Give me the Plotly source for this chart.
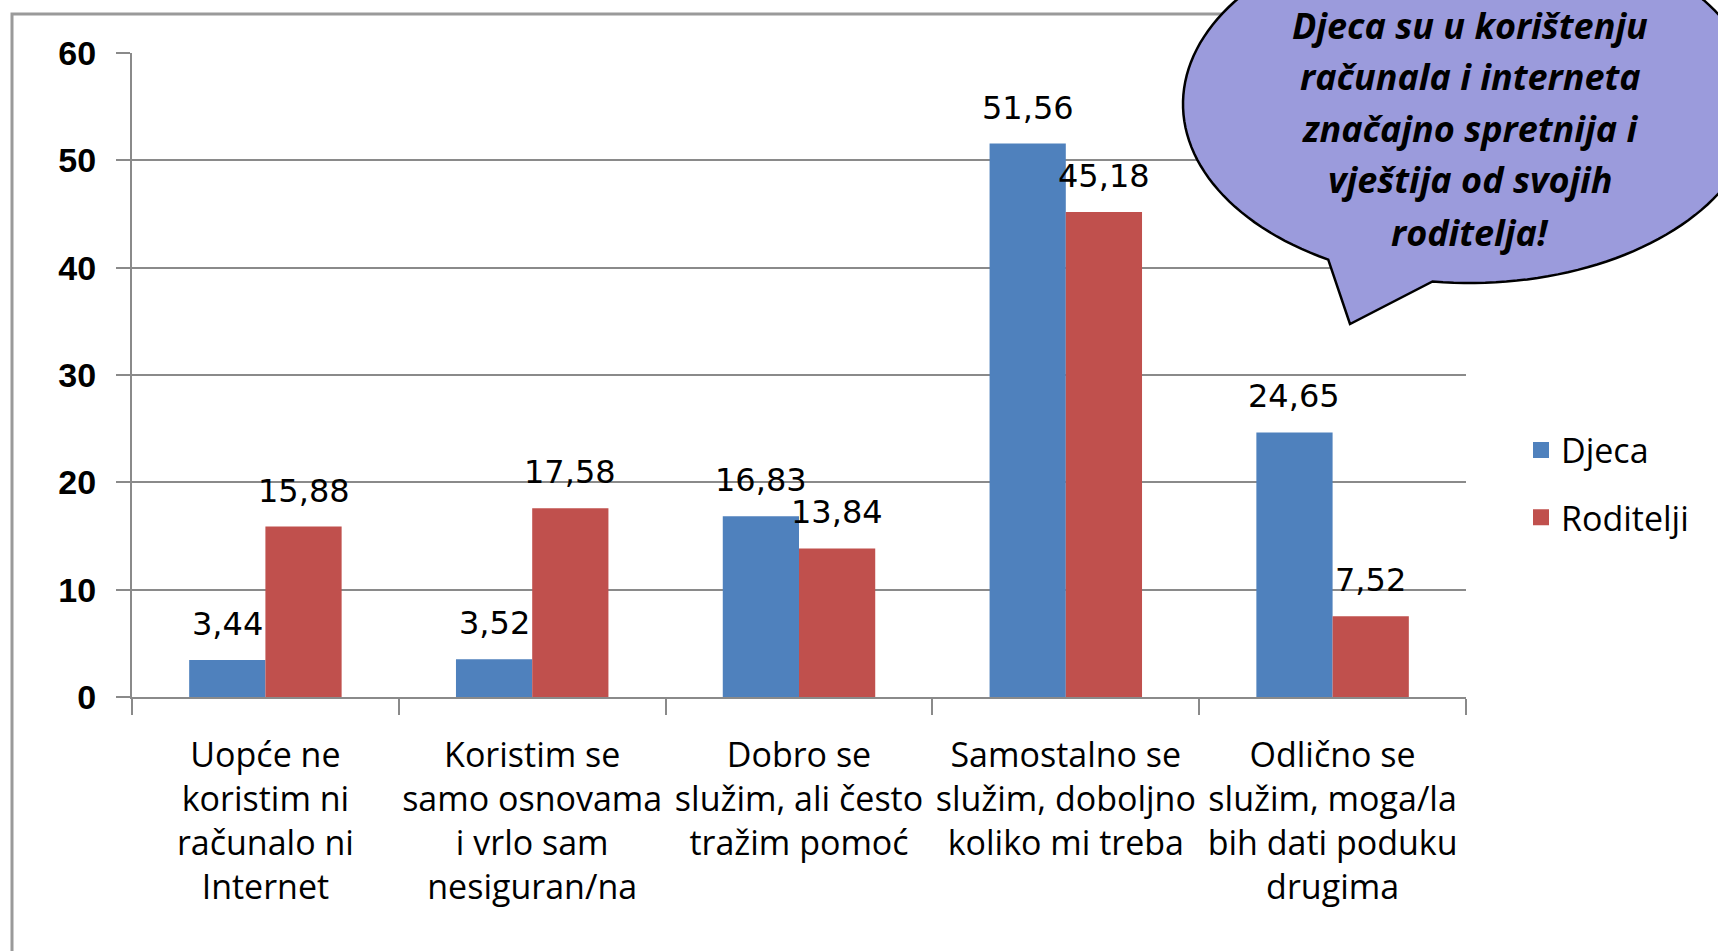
import math
import plotly.graph_objects as go

categories = [
    "Uopće ne<br>koristim ni<br>računalo ni<br>Internet",
    "Koristim se<br>samo osnovama<br>i vrlo sam<br>nesiguran/na",
    "Dobro se<br>služim, ali često<br>tražim pomoć",
    "Samostalno se<br>služim, doboljno<br>koliko mi treba",
    "Odlično se<br>služim, moga/la<br>bih dati poduku<br>drugima",
]
djeca = [3.44, 3.52, 16.83, 51.56, 24.65]
roditelji = [15.88, 17.58, 13.84, 45.18, 7.52]
series_names = ["Djeca", "Roditelji"]
callout_lines = [
    "Djeca su u korištenju",
    "računala i interneta",
    "značajno spretnija i",
    "vještija od svojih",
    "roditelja!",
]

W, H = 1718, 951
# plot area in page pixels
L, R, T, B = 132, 1466, 53, 697


def px(x):
    return (x - L) / (R - L)


def py(y):
    return (B - y) / (B - T)


BLUE = "#4F81BD"
RED = "#C0504D"
GRID = "#8a8a8a"
colors = [BLUE, RED]

fig = go.Figure()
for name, vals, col in zip(series_names, (djeca, roditelji), colors):
    fig.add_trace(go.Bar(x=categories, y=vals, name=name, marker=dict(color=col, line=dict(width=0)),
                         showlegend=False))
# legend entries with larger square keys
for i, (name, col) in enumerate(zip(series_names, colors)):
    fig.add_trace(go.Scatter(x=[None], y=[None], mode="markers", name=name,
                             marker=dict(symbol="square", size=20, color=col),
                             legendgroup=f"g{i}", showlegend=True))

cat_w = (R - L) / len(categories)
bar_w = cat_w / 3.5
annotations = []
for vals, shift in ((djeca, -bar_w / 2), (roditelji, bar_w / 2)):
    for c, v in zip(categories, vals):
        annotations.append(dict(
            x=c, y=v, xref="x", yref="y", text=f"{v:.2f}".replace(".", ","),
            showarrow=False, xshift=shift, yshift=36, yanchor="middle", xanchor="center",
            font=dict(family="DejaVu Sans", size=32, color="black"),
        ))

# speech bubble (page pixel geometry)
cx, cy, rx, ry = 1470, 104, 287, 179
tip = (1350, 324)
a0 = math.radians(119.6)
a1 = math.radians(360 + 97.5)
n = 160
pts = []
for i in range(n + 1):
    a = a0 + (a1 - a0) * i / n
    pts.append((cx + rx * math.cos(a), cy + ry * math.sin(a)))
path = "M " + " L ".join(f"{px(x):.5f},{py(y):.5f}" for x, y in pts)
path += f" L {px(tip[0]):.5f},{py(tip[1]):.5f} Z"

shapes = [
    dict(type="rect", xref="paper", yref="paper", x0=px(12), x1=px(1760), y0=py(1000), y1=py(14),
         line=dict(color="#9a9a9a", width=3), fillcolor="rgba(0,0,0,0)", layer="above"),
    dict(type="path", xref="paper", yref="paper", path=path, fillcolor="#9B9BDC",
         line=dict(color="black", width=2.5), layer="above"),
]

line_ys = [25, 77, 128, 180, 232]
for txt, yy in zip(callout_lines, line_ys):
    annotations.append(dict(
        x=px(1470), y=py(yy), xref="paper", yref="paper", text=f"<b><i>{txt}</i></b>",
        showarrow=False, xanchor="center", yanchor="middle",
        font=dict(family="Open Sans", size=36, color="black"),
    ))

fig.update_layout(
    width=W, height=H,
    margin=dict(l=L, r=W - R, t=T, b=H - B, autoexpand=False),
    paper_bgcolor="white", plot_bgcolor="white",
    barmode="group", bargap=1.5 / 3.5, bargroupgap=0,
    shapes=shapes, annotations=annotations,
    showlegend=True,
    legend=dict(x=px(1521), xanchor="left", y=py(484), yanchor="middle",
                font=dict(family="Open Sans", size=34, color="black"),
                traceorder="grouped", tracegroupgap=20, bgcolor="rgba(0,0,0,0)",
                itemsizing="trace"),
    xaxis=dict(showline=True, linecolor=GRID, linewidth=2, ticks="outside", tickson="boundaries",
               ticklen=16, tickwidth=2, tickcolor=GRID, showgrid=False,
               ticklabelstandoff=27,
               tickfont=dict(family="Open Sans", size=34, color="black"), tickangle=0),
    yaxis=dict(range=[0, 60], dtick=10, showline=True, linecolor=GRID, linewidth=2,
               ticks="outside", ticklen=14, tickwidth=2, tickcolor=GRID,
               showgrid=True, gridcolor=GRID, gridwidth=2, zeroline=False,
               ticklabelstandoff=13,
               tickfont=dict(family="Liberation Sans", size=34, color="black", weight="bold")),
)

fig.write_html("out.html", config={"displayModeBar": False},
               post_script="document.body.style.margin='0px';")
